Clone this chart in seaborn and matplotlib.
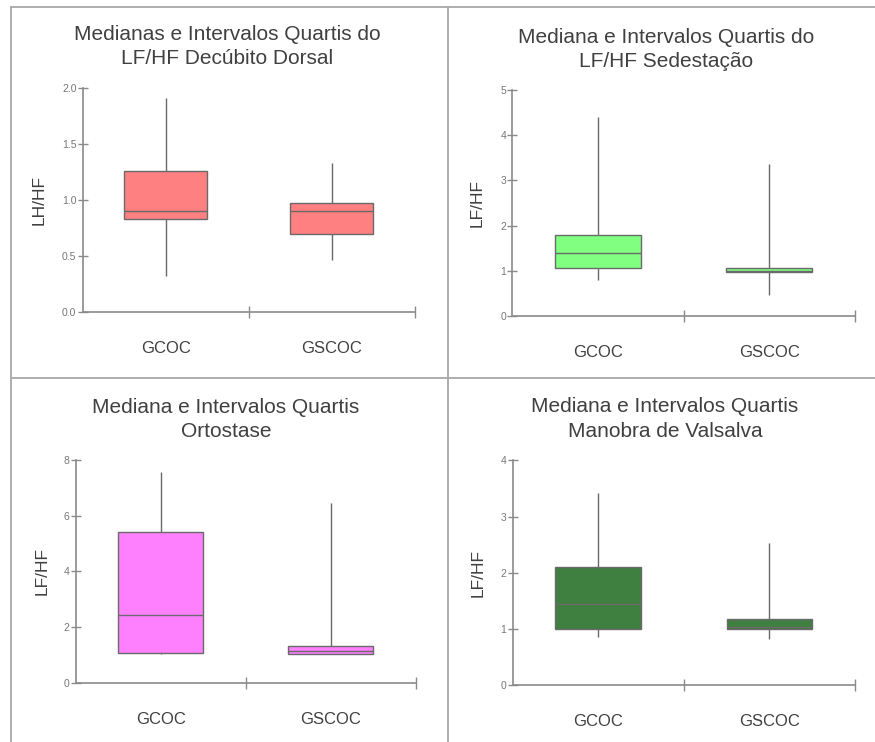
import numpy as np
import pandas as pd
import matplotlib
matplotlib.use("Agg")
import matplotlib.pyplot as plt
from matplotlib.lines import Line2D
import seaborn as sns

sns.set_theme(style="white")
plt.rcParams["font.family"] = ["Liberation Sans", "DejaVu Sans"]

# ---------------------------------------------------------------
# DATA: five-number summaries
# (minimo, Q1, mediana, Q3, maximo)
# ---------------------------------------------------------------
grupos = ["GCOC", "GSCOC"]

dorsal_gcoc = [0.32, 0.83, 0.90, 1.26, 1.91]
dorsal_gscoc = [0.47, 0.70, 0.90, 0.975, 1.33]

sedest_gcoc = [0.80, 1.06, 1.40, 1.785, 4.41]
sedest_gscoc = [0.465, 0.98, 1.00, 1.07, 3.36]

orto_gcoc = [1.02, 1.05, 2.42, 5.40, 7.56]
orto_gscoc = [1.03, 1.03, 1.14, 1.33, 6.44]

valsalva_gcoc = [0.865, 1.00, 1.445, 2.11, 3.41]
valsalva_gscoc = [0.825, 1.00, 1.04, 1.18, 2.535]

titulos = [
    ("Medianas e Intervalos Quartis do", "LF/HF Decúbito Dorsal"),
    ("Mediana e Intervalos Quartis do", "LF/HF Sedestação"),
    ("Mediana e Intervalos Quartis", "Ortostase"),
    ("Mediana e Intervalos Quartis", "Manobra de Valsalva"),
]
ylabels = ["LH/HF", "LF/HF", "LF/HF", "LF/HF"]
yticks = [[0.0, 0.5, 1.0, 1.5, 2.0], [0, 1, 2, 3, 4, 5], [0, 2, 4, 6, 8], [0, 1, 2, 3, 4]]
ytick_fmt = ["{:.1f}", "{:.0f}", "{:.0f}", "{:.0f}"]
cores = ["#ff8080", "#80ff80", "#ff80ff", "#3f7f3f"]

series = [
    (dorsal_gcoc, dorsal_gscoc),
    (sedest_gcoc, sedest_gscoc),
    (orto_gcoc, orto_gscoc),
    (valsalva_gcoc, valsalva_gscoc),
]

# ---------------------------------------------------------------
# LAYOUT (pixel positions of each panel in the 875x742 figure)
# ---------------------------------------------------------------
W, H = 875, 742
# left, right, top, bottom of axes in px
ax_px = [
    (82.7, 415.0, 87.7, 312.3),
    (512.3, 855.0, 90.0, 316.0),
    (76.0, 415.7, 460.0, 682.7),
    (512.7, 855.0, 460.3, 685.3),
]
# title centre x, line 1 y, line 2 y
title_px = [(227, 35, 59), (666, 37.7, 61.7), (226, 407.3, 431.7), (665, 407, 431.7)]
ylabel_x_px = [46.5, 485, 50, 486]

fig = plt.figure(figsize=(W / 100, H / 100), dpi=100)
fig.patch.set_facecolor("white")

text_col = "#404040"
axis_col = "#8a8a8a"

for i in range(4):
    l, r, t, b = ax_px[i]
    ax = fig.add_axes([l / W, 1 - b / H, (r - l) / W, (b - t) / H])
    g1, g2 = series[i]
    df = pd.DataFrame({
        "grupo": [grupos[0]] * len(g1) + [grupos[1]] * len(g2),
        "valor": g1 + g2,
    })
    sns.boxplot(data=df, x="grupo", y="valor", order=grupos, ax=ax,
                color=cores[i], saturation=1, width=0.5, whis=(0, 100),
                showcaps=False, linecolor="#6a6a6a", linewidth=1.0,
                fliersize=0)

    ax.set_xlim(-0.5, 1.5)
    ax.set_ylim(0, yticks[i][-1])
    ax.set_facecolor("white")
    for s in ["top", "right"]:
        ax.spines[s].set_visible(False)
    for s in ["left", "bottom"]:
        ax.spines[s].set_color(axis_col)
        ax.spines[s].set_linewidth(1.2)

    ax.set_yticks(yticks[i])
    ax.set_yticklabels([ytick_fmt[i].format(v) for v in yticks[i]])
    ax.tick_params(axis="y", direction="inout", length=7, width=1,
                   colors=axis_col, labelsize=7.5, pad=1,
                   labelcolor="#777777", left=True)

    # category boundary ticks on x, labels centred under each box
    ax.set_xticks([0.5, 1.5])
    ax.set_xticklabels(["", ""])
    ax.set_xticks([0, 1], minor=True)
    ax.set_xticklabels(grupos, minor=True)
    ax.tick_params(axis="x", which="major", direction="inout", length=8,
                   width=1, colors=axis_col, bottom=True)
    ax.tick_params(axis="x", which="minor", length=0, pad=21,
                   labelsize=12, labelcolor=text_col)

    ax.set_xlabel("")
    ax.set_ylabel(ylabels[i], fontsize=12.5, color=text_col)
    ax.yaxis.set_label_coords((ylabel_x_px[i] - l) / (r - l), 0.5)

    tx, ty1, ty2 = title_px[i]
    for linha, ty in zip(titulos[i], (ty1, ty2)):
        fig.text(tx / W, 1 - ty / H, linha, ha="center", va="center",
                 fontsize=15, color=text_col)

# panel frame lines
frame_col = "#a8a8a8"
for xs, ys in [
    ((11, 11), (7, H)),
    ((11, W), (7, 7)),
    ((447.5, 447.5), (7, H)),
    ((11, W), (378, 378)),
]:
    fig.add_artist(Line2D([x / W for x in xs], [1 - y / H for y in ys],
                          transform=fig.transFigure, color=frame_col,
                          linewidth=1.3))

plt.savefig("out.png", dpi=100)
